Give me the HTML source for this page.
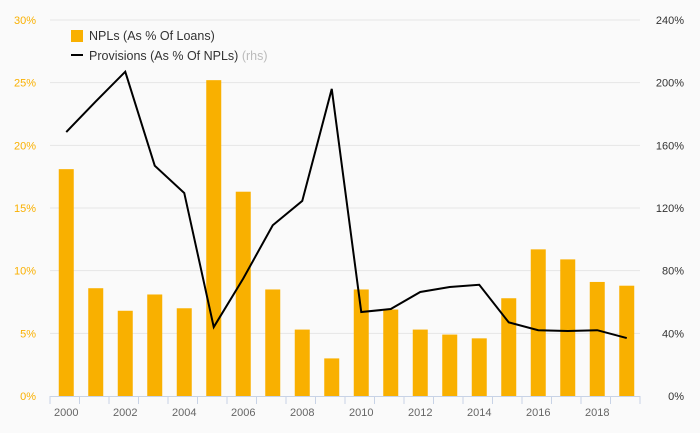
<!DOCTYPE html>
<html><head><meta charset="utf-8"><style>
body{margin:0;background:#fafafa;}
svg{display:block;font-family:"Liberation Sans","DejaVu Sans",sans-serif;}
</style></head><body>
<svg id="chart" width="700" height="433">
<rect width="700" height="433" fill="#fafafa"/>
<g id="grid"></g><g id="bars"></g><g id="line"></g><g id="axes"></g>
<g>
<rect x="71" y="30" width="12" height="12" fill="#f9b000"/>
<text x="89" y="40" font-size="12.5" fill="#333">NPLs (As % Of Loans)</text>
<line x1="71" y1="55" x2="83" y2="55" stroke="#000" stroke-width="2"/>
<text x="89" y="60" font-size="12.5" fill="#333">Provisions (As % Of NPLs) <tspan fill="#bbb">(rhs)</tspan></text>
</g>
</svg>
<script>
const years=[2000,2001,2002,2003,2004,2005,2006,2007,2008,2009,2010,2011,2012,2013,2014,2015,2016,2017,2018,2019];
const npls=[18.1,8.6,6.8,8.1,7.0,25.2,16.3,8.5,5.3,3.0,8.5,6.9,5.3,4.9,4.6,7.8,11.7,10.9,9.1,8.8];
const provisions=[168.5,188,207,147,129.6,44,75,109,124.5,196,53.6,55.5,66.4,69.6,71,47,42,41.5,42,37];
const leftTicks=[0,5,10,15,20,25,30];
const rightTicks=[0,40,80,120,160,200,240];
const NS='http://www.w3.org/2000/svg';
const x0=50,step=29.5,yTop=20,yBot=396;
const xC=i=>x0+step/2+1.5+i*step;
const yL=v=>yBot-(v/30)*(yBot-yTop);
const yR=v=>yBot-(v/240)*(yBot-yTop);
function mk(p,tag,a){const e=document.createElementNS(NS,tag);for(const k in a)e.setAttribute(k,a[k]);p.appendChild(e);return e;}
const grid=document.getElementById('grid'),bars=document.getElementById('bars'),line=document.getElementById('line'),axes=document.getElementById('axes');
leftTicks.forEach((t,i)=>{
  if(t>0){const g=mk(grid,'line',{x1:50,x2:640,y1:yL(t),y2:yL(t),stroke:'#e6e6e6','stroke-width':1});
  
  }
  const l=mk(axes,'text',{x:36,y:yL(t)+4,'text-anchor':'end','font-size':11,fill:'#f9b000'});l.textContent=t+'%';
  
  
});
rightTicks.forEach(t=>{
  const l=mk(axes,'text',{x:684,y:yR(t)+4,'text-anchor':'end','font-size':11,fill:'#333'});l.textContent=t+'%';
  
  
});
npls.forEach((v,i)=>{
  const b=mk(bars,'rect',{x:xC(i)-7.5,y:yL(v),width:15,height:yBot-yL(v),fill:'#f9b000'});
  
  
});
const pl=mk(line,'polyline',{points:provisions.map((v,i)=>xC(i)+','+yR(v)).join(' '),fill:'none',stroke:'#000','stroke-width':2,'stroke-linejoin':'miter'});


const ax=mk(axes,'line',{x1:50,x2:640,y1:396.5,y2:396.5,stroke:'#c8d3e6','stroke-width':1});


for(let i=0;i<=years.length;i++){
  const tk=mk(axes,'line',{x1:x0+i*step,x2:x0+i*step,y1:396,y2:404,stroke:'#c8d3e6','stroke-width':1});
  
  
}
years.forEach((y,i)=>{if(i%2===0){
  const l=mk(axes,'text',{x:xC(i),y:416,'text-anchor':'middle','font-size':11,fill:'#666'});l.textContent=y;
  
  
}});
</script>
</body></html>
